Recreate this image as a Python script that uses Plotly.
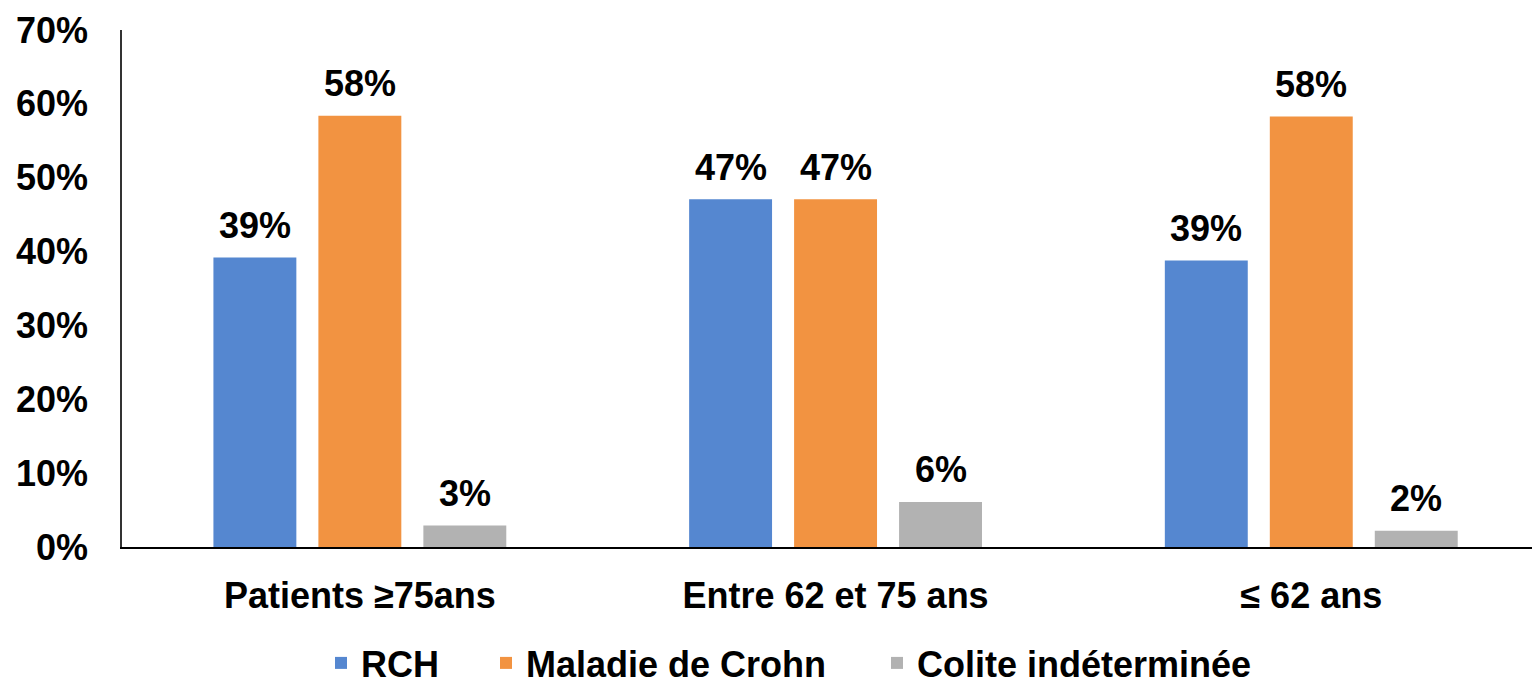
import plotly.graph_objects as go

categories = ["Patients ≥75ans", "Entre 62 et 75 ans", "≤ 62 ans"]
series_names = ["RCH", "Maladie de Crohn", "Colite indéterminée"]
rch = [0.392, 0.471, 0.388]
crohn = [0.584, 0.471, 0.583]
colite = [0.029, 0.061, 0.022]
y_ticks = [0, 0.1, 0.2, 0.3, 0.4, 0.5, 0.6, 0.7]

colors = ["#5587D0", "#F29341", "#B2B2B2"]
FONT = "Liberation Sans, Arial, sans-serif"
W, H = 1532, 685

fig = go.Figure()
legend_ids = ["legend", "legend2", "legend3"]
for name, vals, col, lg in zip(series_names, [rch, crohn, colite], colors, legend_ids):
    fig.add_trace(go.Bar(x=categories, y=vals, name=name, legend=lg,
                         marker=dict(color=col, line=dict(width=0))))

# data labels
offsets = [-105, 0, 105]
for vals, dx in zip([rch, crohn, colite], offsets):
    for c, v in zip(categories, vals):
        fig.add_annotation(x=c, y=v, xref="x", yref="y", text=f"<b>{round(v*100):d}%</b>",
                           showarrow=False, xshift=dx, yshift=32,
                           font=dict(family=FONT, size=36, color="black"))

legend_square_centers = [341, 506, 897]
leg_font = dict(family=FONT, size=36, color="black", weight="bold")
legends = {}
for lg, cx in zip(legend_ids, legend_square_centers):
    legends[lg] = dict(orientation="h", xref="container", yref="container",
                       x=(cx - 20) / W, xanchor="left", y=(H - 663) / H, yanchor="middle",
                       font=leg_font, bgcolor="rgba(0,0,0,0)", borderwidth=0)

fig.update_layout(
    width=W, height=H,
    margin=dict(l=122, r=0, t=30, b=138, pad=0, autoexpand=False),
    plot_bgcolor="white", paper_bgcolor="white",
    barmode="group", bargap=0.338, bargroupgap=0.21,
    font=dict(family=FONT, size=36, color="black"),
    showlegend=True,
    **legends,
)
fig.update_xaxes(range=[-0.5, 2.464], showline=True, linecolor="black", linewidth=2,
                 ticks="", showgrid=False, zeroline=False, ticklabelstandoff=16, automargin=False,
                 tickfont=dict(family=FONT, size=36, color="black", weight="bold"))
fig.update_yaxes(range=[0, 0.7], tickvals=y_ticks, tickformat=".0%", showline=True,
                 linecolor="#333333", linewidth=1.5, ticks="", showgrid=False, zeroline=False,
                 ticklabelstandoff=25, automargin=False,
                 tickfont=dict(family=FONT, size=36, color="black", weight="bold"))

fig.write_html("out.html", config={"displayModeBar": False},
               post_script="document.body.style.margin='0px';")
